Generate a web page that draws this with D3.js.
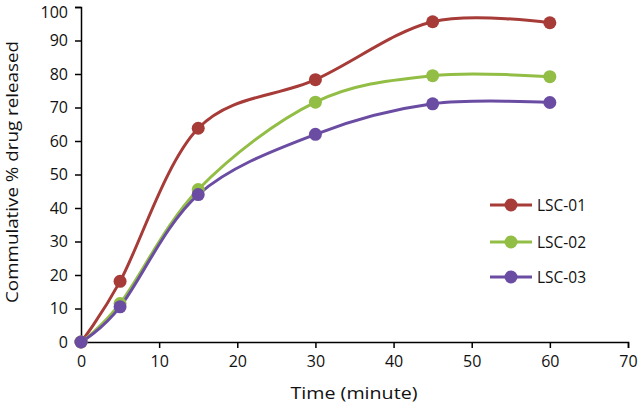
<!DOCTYPE html>
<html><head><meta charset="utf-8">
<script src="https://cdn.jsdelivr.net/npm/d3@7"></script>
<style>body{margin:0;background:#fff}svg{display:block}text{font-family:"Open Sans",Lato,sans-serif;fill:#111}</style>
</head><body><svg id="c" width="638" height="405"></svg>
<script>
const times = [0, 5, 15, 30, 45, 60];
const lsc01 = [0, 18.1, 63.8, 78.3, 95.6, 95.3];
const lsc02 = [0, 11.5, 45.5, 71.6, 79.5, 79.2];
const lsc03 = [0, 10.5, 44.0, 62.0, 71.1, 71.5];
const seriesNames = ["LSC-01", "LSC-02", "LSC-03"];
const seriesColors = ["#A63B38", "#93BE46", "#6B4CA3"];
const xTicks = [0, 10, 20, 30, 40, 50, 60, 70];
const yTicks = [0, 10, 20, 30, 40, 50, 60, 70, 80, 90, 100];

const svg = d3.select("#c");
const x = d3.scaleLinear().domain([0, 70]).range([81, 628]);
const y = d3.scaleLinear().domain([0, 100]).range([342, 7]);

const xAxis = svg.append("g").attr("transform", "translate(0,342)")
  .call(d3.axisBottom(x).tickValues(xTicks).tickSize(6).tickPadding(8));
const yAxis = svg.append("g").attr("transform", "translate(81,0)")
  .call(d3.axisLeft(y).tickValues(yTicks).tickSize(6).tickPadding(7));
[xAxis, yAxis].forEach(g => {
  g.selectAll("path").attr("stroke", "#000").attr("stroke-width", 1.5);
  g.selectAll("line").attr("stroke", "#000").attr("stroke-width", 1.5);
  g.selectAll("text").style("font-size", "16px").attr("fill", "#111");
});
yAxis.selectAll(".tick text").filter(d => d === 100).attr("dy", "10px");

svg.append("text").attr("x", 354).attr("y", 399).attr("text-anchor", "middle")
  .style("font-size", "17px").attr("textLength", 127).attr("lengthAdjust", "spacingAndGlyphs")
  .text("Time (minute)");
svg.append("text").attr("transform", "translate(18,172) rotate(-90)").attr("text-anchor", "middle")
  .style("font-size", "16.5px").attr("textLength", 262).attr("lengthAdjust", "spacingAndGlyphs")
  .text("Commulative % drug released");

const allSeries = [lsc01, lsc02, lsc03];
const line = d3.line().x(d => x(d[0])).y(d => y(d[1])).curve(d3.curveCardinal.tension(0));

allSeries.forEach((vals, i) => {
  const pts = times.map((t, j) => [t, vals[j]]);
  svg.append("path").datum(pts).attr("d", line).attr("fill", "none")
    .attr("stroke", seriesColors[i]).attr("stroke-width", 3);
});
allSeries.forEach((vals, i) => {
  const pts = times.map((t, j) => [t, vals[j]]);
  svg.selectAll(null).data(pts).enter().append("circle")
    .attr("cx", d => x(d[0])).attr("cy", d => y(d[1])).attr("r", 6.5)
    .attr("fill", seriesColors[i]);
});

const legendY = [205, 242, 277];
seriesNames.forEach((n, i) => {
  const g = svg.append("g");
  g.append("line").attr("x1", 490).attr("x2", 532).attr("y1", legendY[i]).attr("y2", legendY[i])
    .attr("stroke", seriesColors[i]).attr("stroke-width", 3);
  g.append("circle").attr("cx", 511).attr("cy", legendY[i]).attr("r", 6.5).attr("fill", seriesColors[i]);
  g.append("text").attr("x", 537).attr("y", legendY[i]).attr("dy", "0.36em")
    .style("font-size", "15.5px").text(n);
});
</script></body></html>
